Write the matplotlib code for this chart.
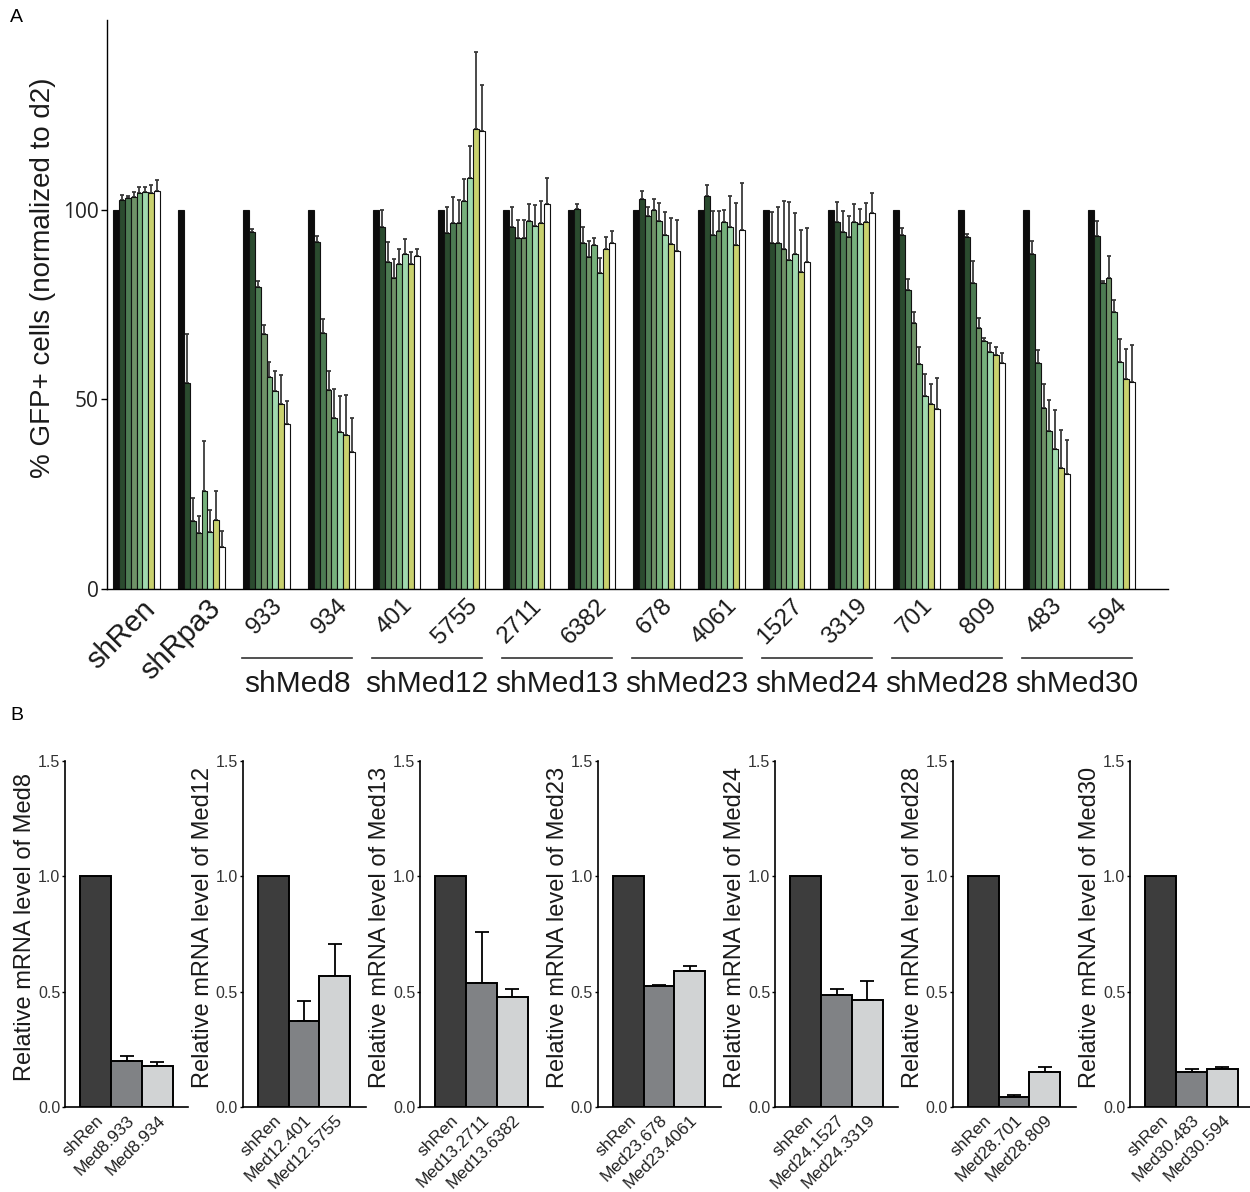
import matplotlib
matplotlib.use("Agg")
import matplotlib.pyplot as plt
import numpy as np

plt.rcParams['font.family'] = ['Liberation Sans', 'DejaVu Sans']

# ---------------- Panel A data ----------------
groups = ['shRen', 'shRpa3', '933', '934', '401', '5755', '2711', '6382',
          '678', '4061', '1527', '3319', '701', '809', '483', '594']
gene_groups = ['shMed8', 'shMed12', 'shMed13', 'shMed23', 'shMed24', 'shMed28', 'shMed30']
yticks_a = [0, 50, 100]

tp1 = [100, 100, 100, 100, 100, 100, 100, 100, 100, 100, 100, 100, 100, 100, 100, 100]
tp2 = [102.5, 54.4, 94.0, 91.4, 95.5, 93.9, 95.4, 100.2, 102.7, 103.6, 91.1, 96.8, 93.4, 92.8, 88.3, 93.0]
tp3 = [103.2, 18.0, 79.7, 67.4, 86.2, 96.5, 92.6, 91.2, 98.2, 93.2, 91.1, 94.0, 78.7, 80.6, 59.7, 80.7]
tp4 = [103.3, 14.7, 67.3, 52.5, 81.9, 96.6, 92.6, 87.6, 99.9, 94.4, 89.7, 92.7, 70.0, 68.8, 47.8, 82.1]
tp5 = [104.3, 25.9, 56.0, 45.0, 85.6, 102.3, 97.0, 90.7, 97.1, 96.7, 86.7, 96.8, 59.4, 65.4, 41.7, 73.0]
tp6 = [104.6, 15.0, 52.2, 41.3, 88.4, 108.3, 95.7, 83.3, 93.3, 95.4, 88.3, 96.3, 50.9, 62.6, 37.0, 59.9]
tp7 = [104.5, 18.2, 48.9, 40.6, 85.7, 121.2, 96.4, 89.7, 91.0, 90.7, 83.5, 96.7, 48.9, 61.6, 31.9, 55.3]
tp8 = [104.9, 11.0, 43.6, 36.2, 87.9, 120.8, 101.5, 91.3, 89.1, 94.7, 86.3, 99.1, 47.4, 59.7, 30.4, 54.6]

err1 = [0] * 16
err2 = [1.3, 12.9, 1.0, 1.6, 4.5, 6.7, 5.3, 1.2, 2.1, 2.8, 8.2, 5.3, 1.8, 0.8, 3.4, 3.9]
err3 = [0.3, 5.9, 1.6, 3.8, 5.2, 6.8, 4.7, 4.3, 2.5, 6.4, 9.5, 5.7, 3.0, 5.9, 3.2, 0.5]
err4 = [1.3, 4.6, 2.4, 5.0, 5.0, 5.9, 4.8, 4.2, 3.0, 5.2, 12.6, 5.7, 3.0, 2.6, 6.3, 5.6]
err5 = [1.8, 13.1, 3.9, 7.8, 4.0, 5.7, 4.6, 1.9, 4.6, 3.1, 15.2, 4.6, 4.3, 0.9, 8.2, 3.2]
err6 = [1.4, 5.9, 5.2, 9.6, 3.9, 8.4, 5.4, 3.9, 6.0, 8.1, 10.8, 3.9, 5.8, 2.2, 10.2, 6.0]
err7 = [2.0, 7.7, 7.6, 10.5, 3.2, 20.4, 5.8, 3.1, 6.7, 11.1, 11.2, 5.0, 5.2, 2.2, 10.0, 8.1]
err8 = [2.9, 4.3, 6.0, 8.9, 1.7, 12.0, 6.8, 3.1, 8.3, 12.2, 8.8, 5.2, 8.2, 2.5, 8.9, 9.8]

series = [tp1, tp2, tp3, tp4, tp5, tp6, tp7, tp8]
errors = [err1, err2, err3, err4, err5, err6, err7, err8]
series_colors = ['#0c0c0c', '#2b4b2f', '#4d7b53', '#6f9267', '#76b07b', '#a0d9ae', '#c9d16e', '#ffffff']

# ---------------- Panel B data ----------------
b_genes = ['Med8', 'Med12', 'Med13', 'Med23', 'Med24', 'Med28', 'Med30']
b_labels = [['shRen', 'Med8.933', 'Med8.934'],
            ['shRen', 'Med12.401', 'Med12.5755'],
            ['shRen', 'Med13.2711', 'Med13.6382'],
            ['shRen', 'Med23.678', 'Med23.4061'],
            ['shRen', 'Med24.1527', 'Med24.3319'],
            ['shRen', 'Med28.701', 'Med28.809'],
            ['shRen', 'Med30.483', 'Med30.594']]
b_values = [[1.0, 0.200, 0.176],
            [1.0, 0.373, 0.568],
            [1.0, 0.537, 0.475],
            [1.0, 0.525, 0.590],
            [1.0, 0.486, 0.463],
            [1.0, 0.042, 0.153],
            [1.0, 0.150, 0.165]]
b_errors = [[0, 0.020, 0.021],
            [0, 0.088, 0.139],
            [0, 0.223, 0.037],
            [0, 0.006, 0.020],
            [0, 0.027, 0.085],
            [0, 0.009, 0.019],
            [0, 0.013, 0.007]]
b_colors = ['#3d3d3d', '#808285', '#d1d3d4']
yticks_b = [0.0, 0.5, 1.0, 1.5]

# ---------------- Figure ----------------
fig = plt.figure(figsize=(12.5, 11.92), dpi=100)
W, H = 1250, 1192

# Panel A
axA = fig.add_axes([107 / W, 1 - 589 / H, 1061 / W, 569 / H])
bw = 0.0904
xg = np.arange(len(groups))
for j, (vals, errs) in enumerate(zip(series, errors)):
    x = xg + (j - 3.5) * bw
    axA.bar(x, vals, width=bw, color=series_colors[j], edgecolor='#111111',
            linewidth=0.8, zorder=2)
    if j > 0:
        axA.errorbar(x, vals, yerr=[np.zeros(len(errs)), errs], fmt='none',
                     ecolor='#3a3a3a', elinewidth=1.3, capsize=1.6, capthick=1.3, zorder=1)

axA.set_xlim(-0.454, 15.87)
axA.set_ylim(0, 150)
axA.set_yticks(yticks_a)
axA.set_yticklabels([str(v) for v in yticks_a], fontsize=15, color='#222222',
                    fontfamily='Open Sans')
axA.tick_params(axis='y', length=4, width=1, pad=2)
axA.set_xticks([])
for s in ['top', 'right']:
    axA.spines[s].set_visible(False)
axA.spines['left'].set_linewidth(1.0)
axA.spines['bottom'].set_linewidth(1.0)

for i, g in enumerate(groups):
    fs = 21 if g.startswith('sh') else 17.5
    axA.text(i + 0.07, -1.5, g, rotation=45, ha='right', va='top',
             rotation_mode='anchor', fontsize=fs, color='#1a1a1a', clip_on=False)

for k, gg in enumerate(gene_groups):
    i0 = 2 + 2 * k
    xl = i0 - 4 * bw - 0.015
    xr = i0 + 1 + 4 * bw - 0.04
    axA.plot([xl, xr], [-18.2, -18.2], color='#333333', lw=1.2, clip_on=False)
    axA.text((xl + xr) / 2, -25.0, gg, ha='center', va='center', fontsize=21.5,
             color='#1a1a1a', clip_on=False)

fig.text(43 / W, 1 - 278 / H, '% GFP+ cells (normalized to d2)', rotation=90,
         ha='center', va='center', fontsize=20, color='#1a1a1a')

fig.text(10 / W, 1 - 18 / H, 'A', fontsize=14, ha='left', va='center')
fig.text(10 / W, 1 - 715 / H, 'B', fontsize=14, ha='left', va='center')

# Panel B
for i, gene in enumerate(b_genes):
    ax = fig.add_axes([(65 + 177.5 * i) / W, 1 - 1107 / H, 123 / W, 346 / H])
    xb = np.arange(3)
    ax.bar(xb, b_values[i], width=1.0, color=b_colors, edgecolor='black',
           linewidth=1.4, zorder=2)
    ax.errorbar(xb[1:], b_values[i][1:], yerr=[np.zeros(2), b_errors[i][1:]],
                fmt='none', ecolor='black', elinewidth=1.3, capsize=5, capthick=1.3, zorder=1)
    ax.set_xlim(-1, 3)
    ax.set_ylim(0, 1.5)
    ax.set_yticks(yticks_b)
    ax.set_yticklabels(['%.1f' % v for v in yticks_b], fontsize=11.5, color='#333333')
    ax.tick_params(axis='y', length=2.5, width=1, pad=1)
    ax.set_xticks(xb)
    ax.set_xticklabels(b_labels[i], rotation=45, ha='right', rotation_mode='anchor',
                       fontsize=12.5, color='#222222')
    ax.tick_params(axis='x', length=0, pad=4)
    for s in ['top', 'right']:
        ax.spines[s].set_visible(False)
    ax.spines['left'].set_linewidth(1.2)
    ax.spines['bottom'].set_linewidth(1.2)
    ax.set_ylabel('Relative mRNA level of ' + gene, fontsize=17, color='#1a1a1a')
    ax.yaxis.set_label_coords(-0.235, 0.52)

fig.savefig('out.png', dpi=100)
